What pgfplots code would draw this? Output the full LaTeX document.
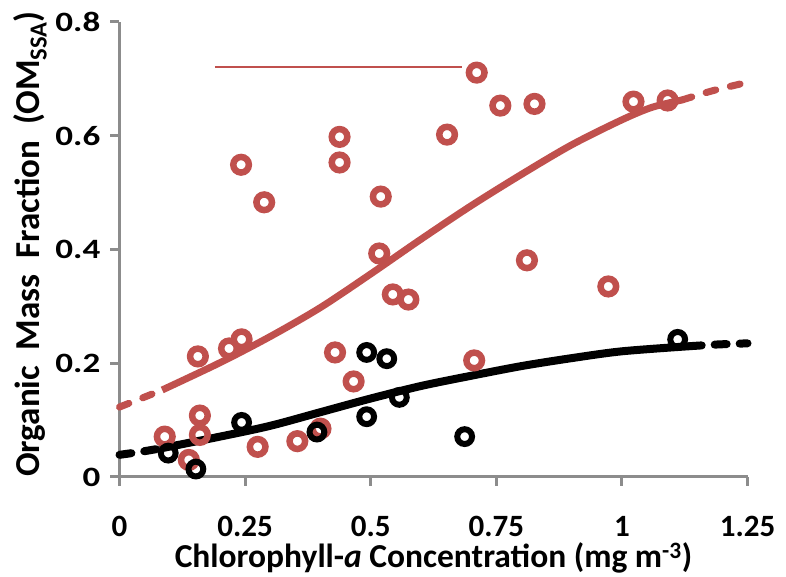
\documentclass[border=0pt]{standalone}
\usepackage{fontspec}
\setmainfont{Carlito}
\usepackage{pgfplots}
\pgfplotsset{compat=1.18}
\definecolor{omred}{HTML}{C0504D}
\definecolor{axgray}{HTML}{8C8C8C}
\begin{document}
\begin{tikzpicture}
\begin{axis}[
    scale only axis,
    width=628pt, height=455pt,
    xmin=0, xmax=1.25, ymin=0, ymax=0.8,
    axis lines=left,
    axis line style={axgray, line width=3pt, -},
    xtick={0,0.25,...,1.25},
    ytick={0,0.2,...,0.8},
    xticklabels={0,0.25,0.5,0.75,1,1.25},
    yticklabels={0,0.2,0.4,0.6,0.8},
    tick align=outside,
    major tick length=9pt,
    tick style={axgray, line width=3pt},
    xticklabel style={font=\fontsize{31}{34}\selectfont\bfseries, anchor=base, yshift=-50pt, inner sep=0pt},
    yticklabel style={font=\fontsize{28}{30}\selectfont\bfseries, anchor=east, xshift=-10pt, inner sep=0pt, xscale=1.25},
    xlabel={Chlorophyll-\textit{a} Concentration (mg m\textsuperscript{-3})},
    ylabel={Organic\ \ Mass\ \ Fraction\ \ (OM\textsubscript{SSA})},
    xlabel style={font=\fontsize{33.5}{36}\selectfont\bfseries, at={(axis description cs:0.5,-0.2)}, anchor=base, inner sep=0pt},
    ylabel style={font=\fontsize{35}{38}\selectfont\bfseries, at={(axis description cs:-0.1425,0.512)}, anchor=center, inner sep=0pt},
    clip=false,
]
% thin red line near the top
\addplot[omred, line width=2pt] coordinates {(0.190,0.721) (0.682,0.721)};
% red points
\addplot[only marks, mark=o, mark size=7.8pt, mark options={omred, line width=6.5pt}] coordinates {
    (0.242,0.549) (0.288,0.483) (0.438,0.598) (0.438,0.553) (0.520,0.493)
    (0.517,0.393) (0.544,0.321) (0.575,0.312) (0.711,0.711) (0.652,0.602)
    (0.758,0.653) (0.826,0.656) (1.023,0.660) (1.091,0.662) (0.811,0.381)
    (0.973,0.335) (0.706,0.205) (0.429,0.219) (0.466,0.168) (0.156,0.212)
    (0.218,0.226) (0.243,0.242) (0.160,0.108) (0.160,0.074) (0.090,0.071)
    (0.138,0.030) (0.275,0.053) (0.354,0.063) (0.400,0.085)
};
% red fit
\addplot[omred, line width=7pt, line cap=round, dash pattern=on 10pt off 15pt, smooth] coordinates {
    (0,0.123) (0.04,0.137) (0.085,0.153)
};
\addplot[omred, line width=7pt, smooth] coordinates {
    (0.085,0.153) (0.2,0.201) (0.3,0.247) (0.4,0.298) (0.5,0.357) (0.6,0.418)
    (0.7,0.477) (0.8,0.532) (0.9,0.584) (1.0,0.628) (1.06,0.650) (1.12,0.663)
};
\addplot[omred, line width=7pt, line cap=round, dash pattern=on 10pt off 15pt, smooth] coordinates {
    (1.12,0.663) (1.18,0.679) (1.25,0.694)
};
% black points
\addplot[only marks, mark=o, mark size=7.4pt, mark options={black, line width=6pt}] coordinates {
    (0.097,0.042) (0.152,0.014) (0.243,0.096) (0.393,0.079) (0.492,0.219)
    (0.532,0.208) (0.492,0.106) (0.557,0.140) (0.687,0.071) (1.111,0.242)
};
% black fit
\addplot[black, line width=8pt, line cap=round, dash pattern=on 12pt off 13pt, smooth] coordinates {
    (0,0.039) (0.04,0.044) (0.08,0.050)
};
\addplot[black, line width=8pt, smooth] coordinates {
    (0.08,0.050) (0.2,0.071) (0.3,0.090) (0.4,0.114) (0.5,0.138) (0.6,0.160)
    (0.7,0.178) (0.8,0.195) (0.9,0.209) (1.0,0.221) (1.135,0.230)
};
\addplot[black, line width=8pt, line cap=round, dash pattern=on 12pt off 13pt, smooth] coordinates {
    (1.135,0.230) (1.19,0.233) (1.25,0.235)
};
\end{axis}
% title, cut off by the top edge of the picture
\node[anchor=base west, inner sep=0pt, font=\fontsize{38}{40}\selectfont\bfseries] at (145.5pt,485pt) {by Biology};
\pgfresetboundingbox
\path[use as bounding box] (-119.5pt,-100pt) rectangle (666.5pt,477pt);
\end{tikzpicture}
\end{document}
